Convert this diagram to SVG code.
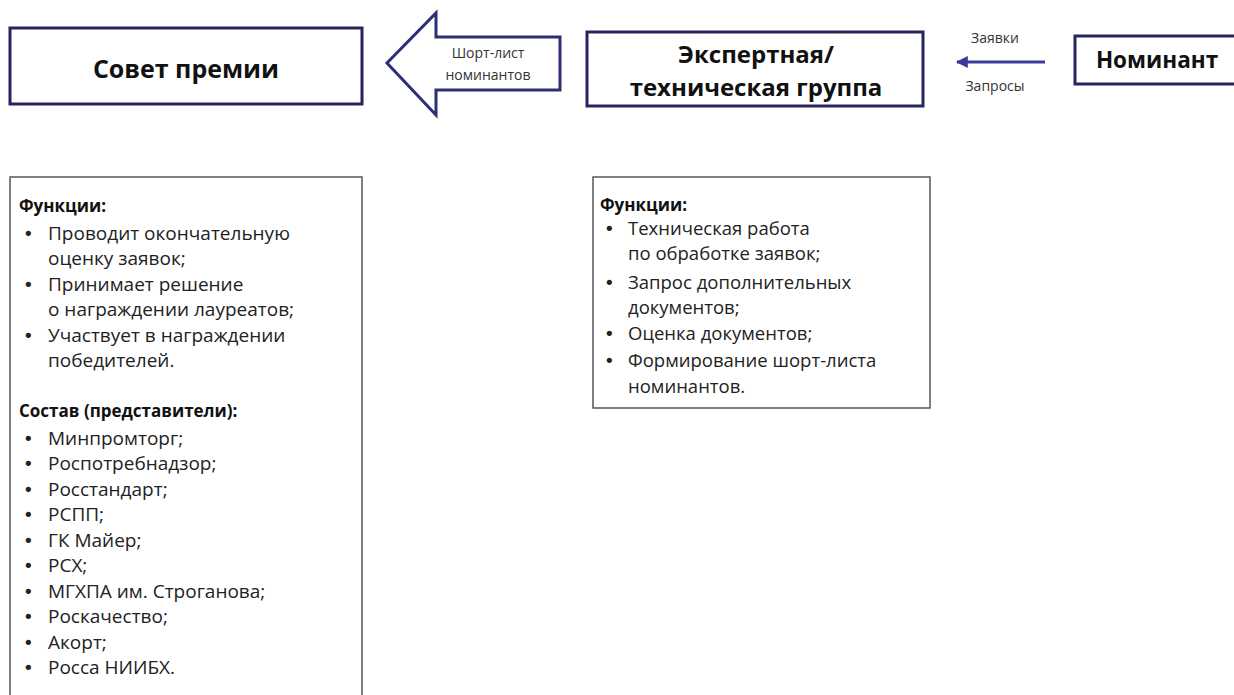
<svg xmlns="http://www.w3.org/2000/svg" width="1234" height="695" viewBox="0 0 1234 695">
<defs>
<style>
.node{fill:#fff;stroke:#24245e;stroke-width:3}
.info{fill:#fff;stroke:#555;stroke-width:1.5}
.title{font-family:"Open Sans","Noto Sans",sans-serif;font-weight:bold;font-size:24px;fill:#111;text-anchor:middle}
.lbl{font-family:"Open Sans","Noto Sans",sans-serif;font-size:14px;fill:#333;text-anchor:middle}
.t{font-family:"Open Sans","Noto Sans",sans-serif;font-size:18.5px;fill:#222}
.tl{font-size:19px}
.bul{font-family:"DejaVu Sans",sans-serif;font-size:18px;fill:#222}
.b{font-family:"Open Sans","Noto Sans",sans-serif;font-size:17px;font-weight:bold;fill:#111}
</style>
<marker id="ah" viewBox="0 0 10 10" refX="9" refY="5" markerWidth="4" markerHeight="4" orient="auto-start-reverse">
<path d="M0,0 L10,5 L0,10 z" fill="#3a3a9a"/>
</marker>
</defs>
<rect width="1234" height="695" fill="#fff"/>

<g id="connectors">
<path id="shortlist-arrow" d="M560,37 L436,37 L436,13 L387,63 L436,115 L436,90 L560,90 Z" fill="#fff" stroke="#2e2e78" stroke-width="3" stroke-linejoin="miter"/>
<text class="lbl" x="488" y="58">Шорт-лист</text>
<text class="lbl" x="488" y="80">номинантов</text>
<line x1="1045" y1="62" x2="957" y2="62" stroke="#3a3a9a" stroke-width="3" marker-end="url(#ah)"/>
<text class="lbl" x="995" y="43">Заявки</text>
<text class="lbl" x="995" y="91">Запросы</text>
</g>

<g id="node-sovet">
<rect class="node" x="10" y="28" width="352" height="76"/>
<text class="title" x="186" y="78" style="font-size:25px">Совет премии</text>
</g>

<g id="node-expert">
<rect class="node" x="587" y="32" width="336" height="74"/>
<text class="title" x="756" y="63">Экспертная/</text>
<text class="title" x="756" y="96">техническая группа</text>
</g>

<g id="node-nominant">
<rect class="node" x="1075" y="36" width="162" height="48"/>
<text class="title" x="1157" y="68" style="font-size:22.5px">Номинант</text>
</g>

<g id="info-sovet">
<rect class="info" x="10" y="177" width="352" height="530"/>
<text class="b" x="19" y="212">Функции:</text>
<g>
<text class="bul" x="23" y="240">•</text><text class="t tl" x="48" y="240">Проводит окончательную</text>
<text class="t tl" x="48" y="265">оценку заявок;</text>
<text class="bul" x="23" y="291">•</text><text class="t tl" x="48" y="291">Принимает решение</text>
<text class="t tl" x="48" y="316">о награждении лауреатов;</text>
<text class="bul" x="23" y="342">•</text><text class="t tl" x="48" y="342">Участвует в награждении</text>
<text class="t tl" x="48" y="367">победителей.</text>
</g>
<text class="b" x="19" y="417">Состав (представители):</text>
<g>
<text class="bul" x="23" y="445">•</text><text class="t tl" x="48" y="445">Минпромторг;</text>
<text class="bul" x="23" y="470">•</text><text class="t tl" x="48" y="470">Роспотребнадзор;</text>
<text class="bul" x="23" y="496">•</text><text class="t tl" x="48" y="496">Росстандарт;</text>
<text class="bul" x="23" y="521">•</text><text class="t tl" x="48" y="521">РСПП;</text>
<text class="bul" x="23" y="547">•</text><text class="t tl" x="48" y="547">ГК Майер;</text>
<text class="bul" x="23" y="572">•</text><text class="t tl" x="48" y="572">РСХ;</text>
<text class="bul" x="23" y="598">•</text><text class="t tl" x="48" y="598">МГХПА им. Строганова;</text>
<text class="bul" x="23" y="623">•</text><text class="t tl" x="48" y="623">Роскачество;</text>
<text class="bul" x="23" y="649">•</text><text class="t tl" x="48" y="649">Акорт;</text>
<text class="bul" x="23" y="674">•</text><text class="t tl" x="48" y="674">Росса НИИБХ.</text>
</g>
</g>

<g id="info-expert">
<rect class="info" x="593" y="177" width="337" height="231"/>
<text class="b" x="600" y="211">Функции:</text>
<g>
<text class="bul" x="604" y="235">•</text><text class="t" x="628" y="235">Техническая работа</text>
<text class="t" x="628" y="260">по обработке заявок;</text>
<text class="bul" x="604" y="289">•</text><text class="t" x="628" y="289">Запрос дополнительных</text>
<text class="t" x="628" y="314">документов;</text>
<text class="bul" x="604" y="340">•</text><text class="t" x="628" y="340">Оценка документов;</text>
<text class="bul" x="604" y="367">•</text><text class="t" x="628" y="367">Формирование шорт-листа</text>
<text class="t" x="628" y="393">номинантов.</text>
</g>
</g>
</svg>
